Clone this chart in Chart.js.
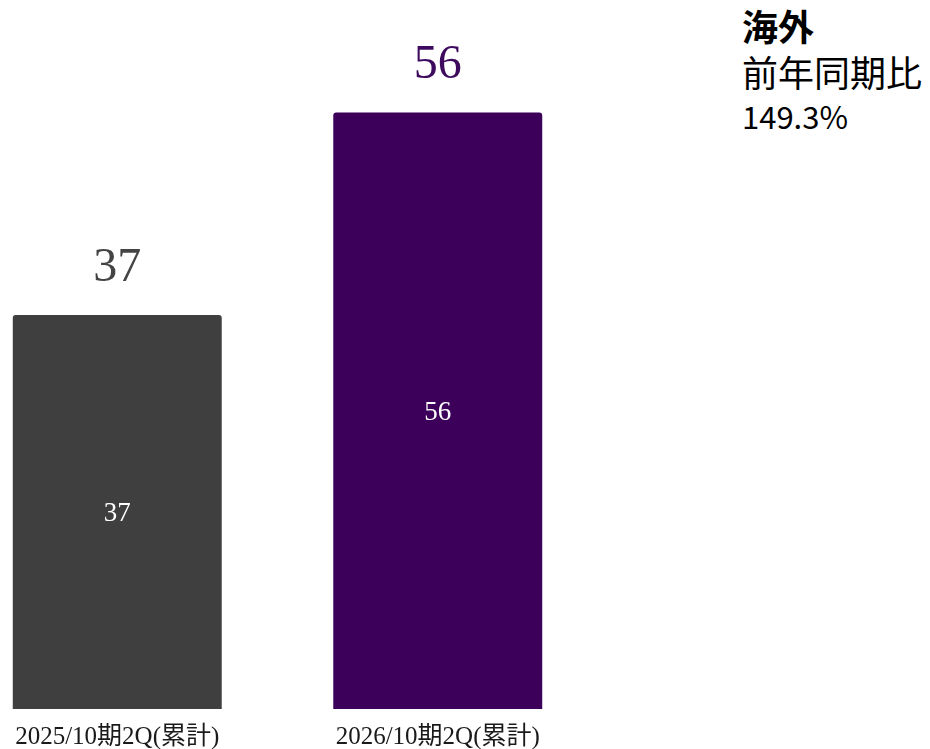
<!DOCTYPE html>
<html>
<head>
<meta charset="utf-8">
<script src="https://cdn.jsdelivr.net/npm/chart.js@4/dist/chart.umd.min.js"></script>
<style>
  html, body { margin: 0; padding: 0; width: 930px; height: 749px; overflow: hidden; background: #ffffff; }
  #wrap { position: absolute; left: -43px; top: 0; width: 641px; height: 766px; }
  .side { position: absolute; left: 742px; color: #000; font-family: "Noto Sans CJK JP", "Noto Sans", sans-serif; white-space: nowrap; }
  #t1 { top: 2px; font-size: 36px; font-weight: bold; line-height: 46px; }
  #t2 { top: 48px; font-size: 36px; line-height: 46px; }
  #t3 { top: 96px; font-size: 31px; line-height: 40px; }
</style>
</head>
<body>
<div id="wrap"><canvas id="c" width="641" height="766"></canvas></div>
<div class="side" id="t1">海外</div>
<div class="side" id="t2">前年同期比</div>
<div class="side" id="t3">149.3%</div>
<script>
// periods on the x axis
const periods = ['2025/10期2Q(累計)', '2026/10期2Q(累計)'];
// overseas figures for each period
const overseasValues = [37, 56];
// bar fill per period
const barColors = ['#3f3f3f', '#3c005a'];
// colour of the value printed above each bar
const topLabelColors = ['#444444', '#3d0a5e'];

const serif = '"Liberation Serif", "Times New Roman", "Noto Sans CJK JP", serif';

// prints each value inside its bar and again above it
const valueLabels = {
  id: 'valueLabels',
  afterDatasetsDraw(chart) {
    const ctx = chart.ctx;
    const meta = chart.getDatasetMeta(0);
    const values = chart.data.datasets[0].data;
    ctx.save();
    ctx.textAlign = 'center';
    ctx.textBaseline = 'middle';
    meta.data.forEach((bar, i) => {
      const v = values[i];
      ctx.fillStyle = '#ffffff';
      ctx.font = '27px ' + serif;
      ctx.fillText(String(v), bar.x, (bar.y + bar.base) / 2 + 2);
      ctx.fillStyle = topLabelColors[i];
      ctx.font = '48px ' + serif;
      ctx.fillText(String(v), bar.x, bar.y - 47);
    });
    ctx.restore();
  }
};

new Chart(document.getElementById('c'), {
  type: 'bar',
  data: {
    labels: periods,
    datasets: [{
      data: overseasValues,
      backgroundColor: barColors,
      borderRadius: { topLeft: 3, topRight: 3 },
      borderSkipped: false,
      categoryPercentage: 1,
      barPercentage: 0.652
    }]
  },
  options: {
    responsive: false,
    animation: false,
    events: [],
    layout: { padding: { top: 70, left: 0, right: 0, bottom: 0 } },
    plugins: { legend: { display: false }, tooltip: { enabled: false } },
    scales: {
      x: {
        grid: { display: false, drawTicks: false },
        border: { display: false },
        ticks: { color: '#1a1a1a', padding: 13.5, font: { family: serif, size: 25 } }
      },
      y: {
        display: false,
        min: 0,
        max: 60
      }
    }
  },
  plugins: [valueLabels]
});
</script>
</body>
</html>
